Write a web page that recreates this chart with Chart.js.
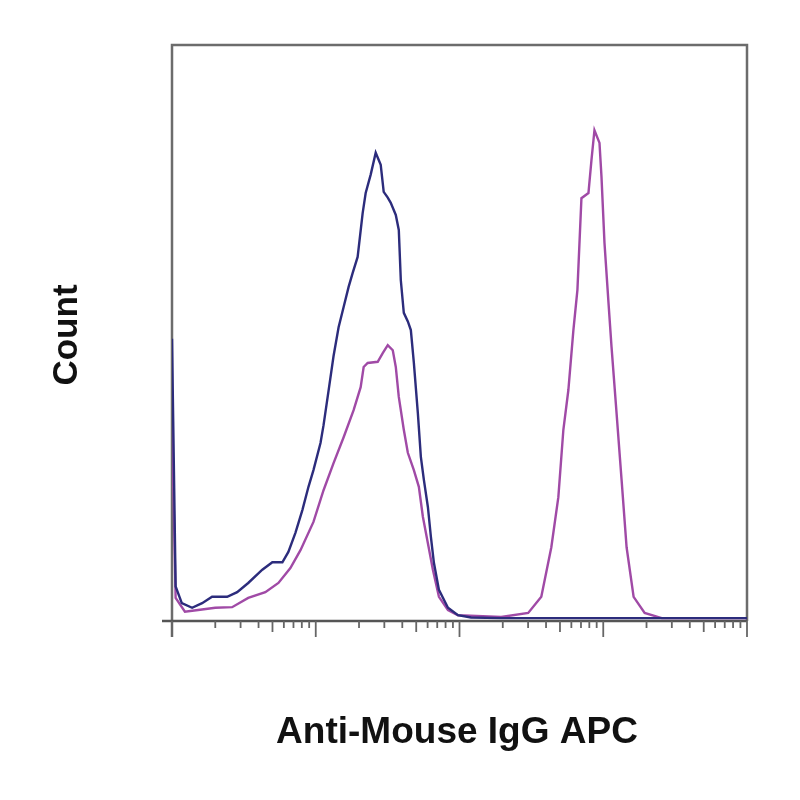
<!DOCTYPE html>
<html>
<head>
  <title>Anti-Mouse IgG APC histogram</title>
  <style>
    body {
      margin: 0;
      padding: 0;
      background-color: #fff;
    }
    #wrap {
      width: 800px;
      height: 800px;
    }
  </style>
</head>
<body>

<div id="wrap">
  <canvas id="myChart" width="800" height="800"></canvas>
</div>

<script src="https://cdn.jsdelivr.net/npm/chart.js"></script>
<script>
  // fluorescence (log axis) and count values
  const blueX = [10, 10.6, 11.7, 13.8, 16.2, 19.0, 24.2, 28.4, 33.9, 42.5, 49.9, 58.6, 64.5, 72.2, 80.8, 89.0, 96.4,
    107.9, 113.3, 122.8, 133.0, 144.2, 156.3, 169.3, 180.5, 195.6, 212.0, 222.5, 241.1, 261.3, 283.1, 297, 316.9,
    332.5, 360.4, 378.2, 390.5, 409.8, 437.1, 458.7, 481.4, 513.2, 538.5, 565.2, 602.7, 632.4, 663.7, 719.4,
    831.3, 976, 1203, 1949, 100000];
  const blueY = [49, 6, 3.1, 2.3, 3.1, 4.2, 4.2, 5.0, 6.6, 8.9, 10.2, 10.2, 12.0, 15.3, 19.3, 23.3, 26.2,
    30.9, 34, 40, 46, 51, 54.5, 58, 60.4, 63.2, 70.8, 74.3, 77.5, 81.3, 79.2, 74.5, 73.5,
    72.6, 70.5, 67.9, 59.2, 53.5, 52, 50.5, 44.8, 36.1, 28.5, 24.5, 19.8, 14.6, 10.1, 5.4,
    2.3, 1.0, 0.6, 0.5, 0.5];

  const magX = [10, 10.6, 12.3, 15.2, 20.0, 26.2, 33.9, 44.6, 55.0, 66.6, 78.3, 96.4, 113.3, 133.0, 156.3,
    183.4, 205.3, 215.4, 229.8, 269.8, 292.4, 316.9, 343.4, 360.4, 378.2, 409.8, 437.1, 481.4, 521.5, 556.2,
    602.7, 653, 719.4, 831.3, 976, 1949, 3006, 3707, 4353, 4871, 5279, 5720, 6199, 6612, 7051, 7889, 8279,
    8688, 9415, 9722, 10202, 10880, 11418, 12376, 13414, 14534, 16266, 19409, 25507, 100000];
  const magY = [35, 4, 1.6, 1.9, 2.3, 2.4, 4.0, 5.0, 6.6, 9.2, 12.3, 17.2, 22.7, 27.4, 31.9,
    36.6, 40.6, 44.1, 44.8, 45.0, 46.5, 47.9, 47.0, 44.1, 38.9, 33.2, 29.2, 26.2, 23.3, 18.1,
    13.5, 8.9, 4.2, 1.9, 1.0, 0.7, 1.4, 4.2, 12.8, 21.5, 33.2, 40.1, 50.5, 57.5, 73.4, 74.3, 80.0,
    85.2, 83.0, 77.1, 65.6, 55.2, 47.6, 36.1, 24.5, 12.8, 4.2, 1.4, 0.5, 0.5];

  const decades = [10, 100, 1000, 10000];
  const xTitle = 'Anti-Mouse IgG APC';
  const yTitle = 'Count';

  function toPoints(xs, ys) {
    return xs.map((x, i) => ({ x: x, y: ys[i] }));
  }

  // frame, log tick marks and axis titles
  const framePlugin = {
    id: 'frame',
    beforeDatasetsDraw(chart) {
      const ctx = chart.ctx;
      const a = chart.chartArea;
      const xs = chart.scales.x;
      ctx.save();
      ctx.strokeStyle = '#6c6c6c';
      ctx.lineWidth = 2.5;
      ctx.beginPath();
      ctx.moveTo(a.left, a.bottom + 16);
      ctx.lineTo(a.left, a.top);
      ctx.lineTo(a.right, a.top);
      ctx.lineTo(a.right, a.bottom);
      ctx.stroke();

      ctx.strokeStyle = '#555';
      ctx.lineWidth = 2.5;
      ctx.beginPath();
      ctx.moveTo(a.left - 10, a.bottom);
      ctx.lineTo(a.right, a.bottom);
      ctx.stroke();

      ctx.lineWidth = 1.8;
      ctx.strokeStyle = '#666';
      decades.forEach(d => {
        for (let k = 1; k <= 9; k++) {
          const px = xs.getPixelForValue(k * d);
          const len = k === 1 ? 16 : (k === 5 ? 11 : 7);
          ctx.beginPath();
          ctx.moveTo(px, a.bottom);
          ctx.lineTo(px, a.bottom + len);
          ctx.stroke();
        }
      });
      const last = xs.getPixelForValue(100000);
      ctx.beginPath();
      ctx.moveTo(last, a.bottom);
      ctx.lineTo(last, a.bottom + 16);
      ctx.stroke();
      ctx.restore();
    },
    afterDraw(chart) {
      const ctx = chart.ctx;
      ctx.save();
      ctx.fillStyle = '#111';
      ctx.font = 'bold 37px "Liberation Sans", Arial, sans-serif';
      ctx.textAlign = 'center';
      ctx.textBaseline = 'alphabetic';
      ctx.fillText(xTitle, 457, 743);
      ctx.translate(77, 335);
      ctx.rotate(-Math.PI / 2);
      ctx.font = 'bold 35px "Liberation Sans", Arial, sans-serif';
      ctx.fillText(yTitle, 0, 0);
      ctx.restore();
    }
  };

  const ctx = document.getElementById('myChart').getContext('2d');
  const myChart = new Chart(ctx, {
    type: 'line',
    data: {
      datasets: [{
        label: 'stained',
        data: toPoints(blueX, blueY),
        borderColor: '#2c2c7c',
        borderWidth: 2.4,
        pointRadius: 0,
        tension: 0,
        fill: false
      }, {
        label: 'isotype',
        data: toPoints(magX, magY),
        borderColor: '#a04aa6',
        borderWidth: 2.4,
        pointRadius: 0,
        tension: 0,
        fill: false
      }]
    },
    options: {
      responsive: false,
      animation: false,
      layout: {
        padding: { left: 172, right: 53, top: 45, bottom: 179 }
      },
      scales: {
        x: {
          type: 'logarithmic',
          min: 10,
          max: 100000,
          display: false
        },
        y: {
          min: 0,
          max: 100,
          display: false
        }
      },
      plugins: {
        legend: { display: false },
        tooltip: { enabled: false }
      }
    },
    plugins: [framePlugin]
  });
</script>
</body>
</html>
